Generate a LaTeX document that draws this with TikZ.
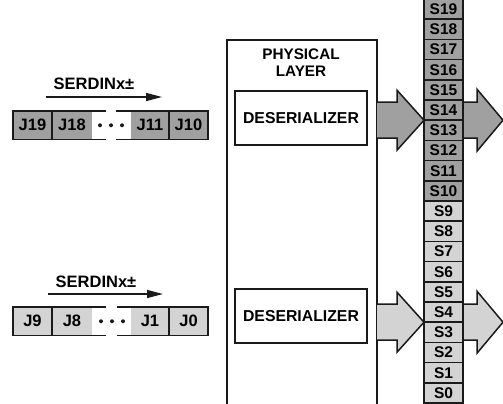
\documentclass[tikz,border=0pt]{standalone}
\usepackage{fontspec}
\setmainfont{Liberation Sans}
\usetikzlibrary{arrows.meta}
\definecolor{darkfill}{HTML}{A0A0A0}
\definecolor{lightfill}{HTML}{D3D3D3}
\definecolor{ink}{HTML}{1A1A1A}
\begin{document}
\begin{tikzpicture}[x=1pt,y=-1pt,line width=1.5pt,
  scell/.style={draw=ink,minimum width=39pt,minimum height=20.2pt,inner sep=0pt,
    font=\fontsize{15.5}{15.5}\selectfont\bfseries},
  jcell/.style={inner sep=0pt,minimum height=28.5pt,font=\fontsize{16.5}{16.5}\selectfont\bfseries},
  lbl/.style={inner sep=0pt,font=\fontsize{16.5}{17}\selectfont\bfseries,align=center},
  desbox/.style={draw=ink,minimum width=132pt,minimum height=54pt,inner sep=0pt,
    font=\fontsize{15.8}{15.8}\selectfont\bfseries},
  bigarrow/.style={draw=ink,line join=miter},
  serarrow/.style={draw=ink,-{Triangle[length=16pt,width=8pt]}}]
\useasboundingbox (0,0) rectangle (503,404);

% physical layer
\draw[ink] (227,412) -- (227,40) coordinate (plTL) -- (377,40) coordinate (plTR) -- (377,412);
\node[lbl,font=\fontsize{15.3}{17}\selectfont\bfseries] (phys) at (301,63) {PHYSICAL\\LAYER};
\node[desbox] (desA) at (301,118) {DESERIALIZER};
\node[desbox] (desB) at (301,316) {DESERIALIZER};

% big arrows (top)
\path[bigarrow,fill=darkfill] (377,102.2) -- (397,102.2) -- (397,90.2) -- (424,120.2)
  -- (397,150.2) -- (397,138.2) -- (377,138.2);
\path[bigarrow,fill=darkfill] (463,102.2) -- (477,102.2) -- (477,89.2) -- (503,120.2)
  -- (477,151.2) -- (477,138.2) -- (463,138.2);
% big arrows (bottom)
\path[bigarrow,fill=lightfill] (377,304.2) -- (397,304.2) -- (397,292.2) -- (424,322.2)
  -- (397,352.2) -- (397,340.2) -- (377,340.2);
\path[bigarrow,fill=lightfill] (463,304.2) -- (477,304.2) -- (477,291.2) -- (503,322.2)
  -- (477,353.2) -- (477,340.2) -- (463,340.2);

% S column
\foreach \i in {0,...,9} {
  \pgfmathsetmacro\yc{403-20.2*\i-10.1}
  \node[scell,fill=lightfill] (s\i) at (443.5,\yc) {S\i};
}
\foreach \i in {10,...,19} {
  \pgfmathsetmacro\yc{403-20.2*\i-10.1}
  \node[scell,fill=darkfill] (s\i) at (443.5,\yc) {S\i};
}

% top J row
\node[jcell,fill=darkfill,minimum width=39pt] (j19) at (32.5,125.25) {J19};
\node[jcell,fill=darkfill,minimum width=40pt] (j18) at (72,125.25) {J18};
\node[jcell,fill=darkfill,minimum width=38pt] (j11) at (150,125.25) {J11};
\node[jcell,fill=darkfill,minimum width=39pt] (j10) at (188.5,125.25) {J10};
\draw[ink] (106,111) -- (13,111) -- (13,139.5) -- (106,139.5);
\draw[ink] (116,111) -- (208,111) -- (208,139.5) -- (116,139.5);
\draw[ink] (52,111) -- (52,139.5);
\draw[ink] (169,111) -- (169,139.5);
\foreach \x in {100,111,122} \fill[ink] (\x,125.25) circle (2pt);
\node[lbl] (serA) at (94,84) {SERDINx±};
\coordinate (saA) at (46,97);
\coordinate (sbA) at (162,97);
\draw[serarrow] (saA) -- (sbA);

% bottom J row
\node[jcell,fill=lightfill,minimum width=39pt] (j9) at (32.5,321.25) {J9};
\node[jcell,fill=lightfill,minimum width=40pt] (j8) at (72,321.25) {J8};
\node[jcell,fill=lightfill,minimum width=38pt] (j1) at (150,321.25) {J1};
\node[jcell,fill=lightfill,minimum width=39pt] (j0) at (188.5,321.25) {J0};
\draw[ink] (106,307) -- (13,307) -- (13,335.5) -- (106,335.5);
\draw[ink] (117,307) -- (208,307) -- (208,335.5) -- (117,335.5);
\draw[ink] (52,307) -- (52,335.5);
\draw[ink] (169,307) -- (169,335.5);
\foreach \x in {101,112,123} \fill[ink] (\x,321.25) circle (2pt);
\node[lbl] (serB) at (96,282) {SERDINx±};
\coordinate (saB) at (48,294);
\coordinate (sbB) at (163,294);
\draw[serarrow] (saB) -- (sbB);
\end{tikzpicture}
\end{document}
